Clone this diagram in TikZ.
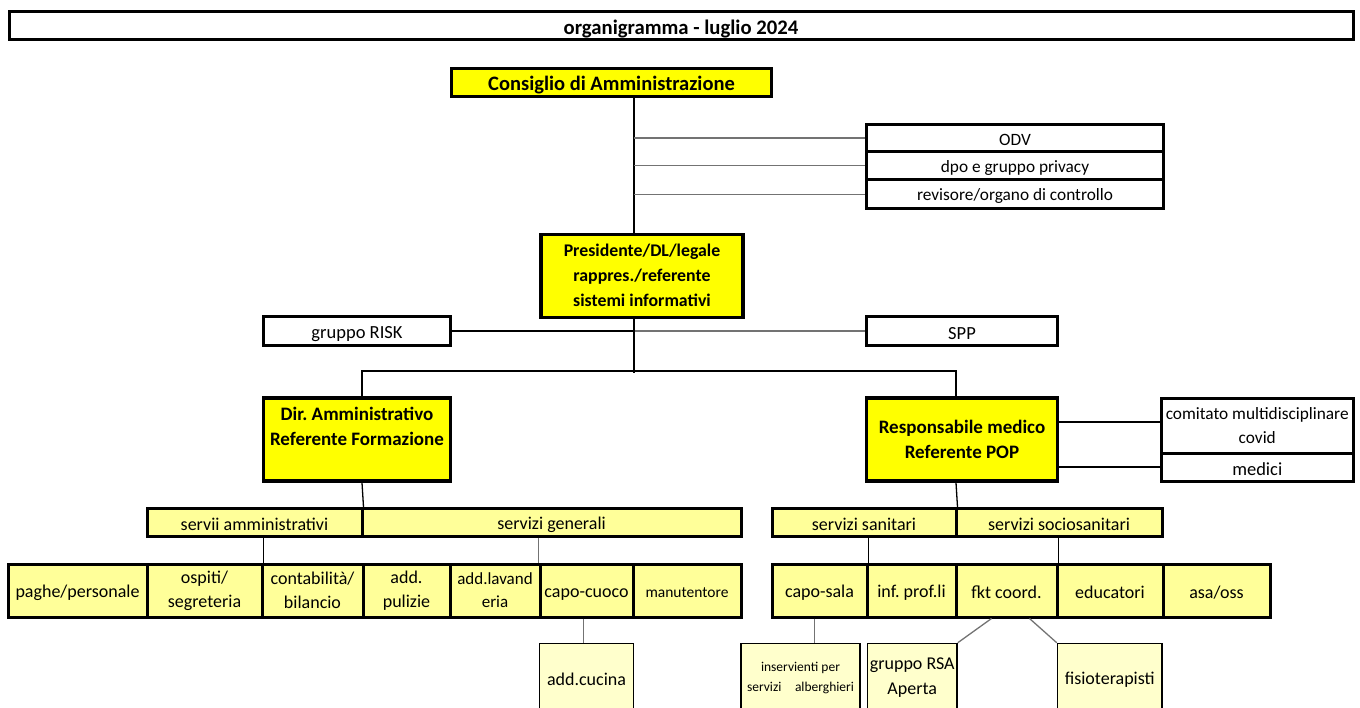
\documentclass[tikz,border=0pt]{standalone}
\usepackage{fontspec}
\setmainfont{Carlito}
\usepackage[dvipsnames]{xcolor}
\definecolor{giallo}{HTML}{FFFF00}
\definecolor{gialloch}{HTML}{FFFF99}
\definecolor{giallopal}{HTML}{FFFFCC}
\frenchspacing
\newcommand{\puntello}{\rule[-0.05em]{0pt}{1em}}

\begin{document}
\begin{tikzpicture}[x=1pt, y=-1pt, line width=1.3pt,
    every node/.style={execute at begin node=\puntello, execute at end node=\puntello},
    main box/.style={draw, line width=3.5pt, fill=giallo, inner sep=0pt, align=center, font=\fontsize{19}{25}\selectfont\bfseries},
    side box/.style={draw, line width=3pt, fill=white, inner sep=0pt, align=center, font=\fontsize{17.3}{24}\selectfont},
    band box/.style={draw, line width=3pt, fill=gialloch, inner sep=0pt, align=center, font=\fontsize{18}{24}\selectfont},
    sub box/.style={draw, line width=1.5pt, fill=giallopal, inner sep=0pt, align=center, font=\fontsize{18}{25}\selectfont},
    grey link/.style={black!55}]

            \useasboundingbox (0,0) rectangle (1360,708);

            % titolo
            \node[side box, font=\fontsize{20.7}{24}\selectfont\bfseries, minimum width=1344, minimum height=28] (titolo) at (681,26) {organigramma - luglio 2024};

            % vertice
            \node[main box, font=\fontsize{20.5}{25}\selectfont\bfseries, minimum width=320, minimum height=28] (cda) at (611.5,82.5) {Consiglio di Amministrazione};
            \node[side box, minimum width=297, minimum height=27] (odv) at (1015,138) {ODV};
            \node[side box, minimum width=297, minimum height=28.5] (dpo) at (1015,165.75) {dpo e gruppo privacy};
            \node[side box, minimum width=297, minimum height=28.5] (rev) at (1015,194.25) {revisore/organo di controllo};
            \node[main box, font=\fontsize{17.8}{25}\selectfont\bfseries, minimum width=202, minimum height=83] (pres) at (642,276) {Presidente/DL/legale\\rappres./referente\\sistemi informativi};
            \node[side box, font=\fontsize{18.5}{24}\selectfont, minimum width=187, minimum height=29] (risk) at (357,331) {gruppo RISK};
            \node[side box, font=\fontsize{18.5}{24}\selectfont, minimum width=191, minimum height=29] (spp) at (962,331) {SPP};

            % direzioni
            \node[main box, minimum width=187, minimum height=83] (dir) at (357,439.5) {Dir. Amministrativo\\Referente Formazione\\ \mbox{}};
            \node[main box, minimum width=191, minimum height=83] (resp) at (962,439.5) {Responsabile medico\\Referente POP};
            \node[side box, minimum width=191.5, minimum height=54] (com) at (1257.25,426) {comitato multidisciplinare\\covid};
            \node[side box, font=\fontsize{18.5}{24}\selectfont, minimum width=191.5, minimum height=28] (med) at (1257.25,467) {medici};

            % servizi
            \node[band box, minimum width=215, minimum height=27.5] (samm) at (254.5,522.25) {servii amministrativi};
            \node[band box, minimum width=379, minimum height=27.5] (sgen) at (551.5,522.25) {servizi generali};
            \node[band box, minimum width=184, minimum height=27.5] (ssan) at (864,522.25) {servizi sanitari};
            \node[band box, minimum width=206, minimum height=27.5] (ssoc) at (1059,522.25) {servizi sociosanitari};

            % personale
            \node[band box, minimum width=139, minimum height=53] (paghe) at (77.5,590.5) {paghe/personale};
            \node[band box, minimum width=115, minimum height=53] (osp) at (204.5,590.5) {ospiti/\\segreteria};
            \node[band box, minimum width=101, minimum height=53] (cont) at (312.5,590.5) {contabilità/\\bilancio};
            \node[band box, minimum width=87, minimum height=53] (pul) at (406.5,590.5) {add.\\pulizie};
            \node[band box, minimum width=90, minimum height=53, font=\fontsize{17}{23}\selectfont] (lav) at (495,590.5) {add.lavand\\eria};
            \node[band box, minimum width=93, minimum height=53] (cuoco) at (586.5,590.5) {capo-cuoco};
            \node[band box, minimum width=108, minimum height=53, font=\fontsize{15.5}{20}\selectfont] (manut) at (687,590.5) {manutentore};
            \node[band box, minimum width=95, minimum height=53] (sala) at (819.5,590.5) {capo-sala};
            \node[band box, minimum width=89, minimum height=53] (inf) at (911.5,590.5) {inf. prof.li};
            \node[band box, minimum width=101, minimum height=53] (fkt) at (1006.5,590.5) {fkt coord.};
            \node[band box, minimum width=106, minimum height=53] (edu) at (1110,590.5) {educatori};
            \node[band box, minimum width=107, minimum height=53] (asa) at (1216.5,590.5) {asa/oss};

            % collaboratori
            \node[sub box, minimum width=94, minimum height=68.5] (cucina) at (586.5,677.75) {add.cucina};
            \node[sub box, minimum width=119, minimum height=68.5, font=\fontsize{13.5}{20}\selectfont] (inserv) at (800.5,677.75) {inservienti per\\servizi\quad alberghieri};
            \node[sub box, minimum width=89.5, minimum height=68.5] (rsa) at (912.25,677.75) {gruppo RSA\\Aperta};
            \node[sub box, minimum width=104.5, minimum height=68.5] (fisio) at (1109.75,677.75) {fisioterapisti};

            \coordinate (asse) at (634,0);
            \coordinate (bus) at (634,371);

            \draw (cda.south -| asse) -- (pres.north -| asse);
            \draw[grey link] (asse |- odv.west) -- (odv.west);
            \draw[grey link] (asse |- dpo.west) -- (dpo.west);
            \draw[grey link] (asse |- rev.west) -- (rev.west);
            \draw (risk.east) -- (risk.east -| asse);
            \draw[grey link] (asse |- spp.west) -- (spp.west);
            \draw (pres.south -| asse) -- ([yshift=-2]bus);
            \draw ([xshift=5]dir.north) |- (bus) -| ([xshift=-6]resp.north);
            \draw ([yshift=4]resp.east |- com.west) -- ([yshift=4]com.west);
            \draw (resp.east |- med.west) -- (med.west);

            \draw ([xshift=5]dir.south) -- (samm.north east);
            \draw ([xshift=-6]resp.south) -- (ssan.north east);
            \draw (samm.south -| osp.north east) -- (osp.north east);
            \draw[grey link] (sgen.south -| cuoco.north west) -- (cuoco.north west);
            \draw (ssan.south -| sala.north east) -- (sala.north east);
            \draw (ssoc.south -| fkt.north east) -- (fkt.north east);

            \draw[grey link] ([xshift=-3]cuoco.south) -- ([xshift=-3]cuoco.south |- cucina.north);
            \draw[grey link] ([xshift=-5]sala.south) -- ([xshift=-5]sala.south |- inserv.north);
            \draw[grey link] ([xshift=-15]fkt.south) -- (rsa.north east);
            \draw[grey link] ([xshift=23]fkt.south) -- (fisio.north west);

        \end{tikzpicture}
\end{document}
